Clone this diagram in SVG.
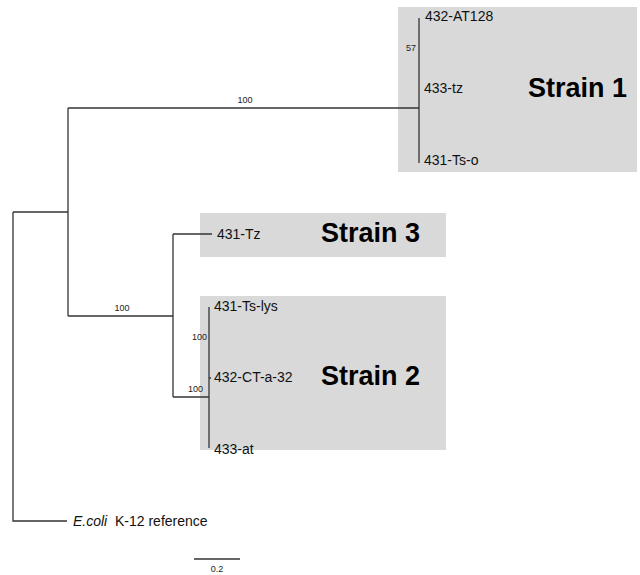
<svg xmlns="http://www.w3.org/2000/svg" width="640" height="575" viewBox="0 0 640 575">
<style>
.box{fill:#d9d9d9}
.br{stroke:#333;stroke-width:1.3;fill:none}
.leaf{font-family:"Liberation Sans",Arial,sans-serif;font-size:14px;fill:#111}
.bs{font-family:"Liberation Sans",Arial,sans-serif;font-size:9px;fill:#222}
.strain{font-family:"Liberation Sans",Arial,sans-serif;font-size:27px;font-weight:bold;fill:#000}
</style>
<rect width="640" height="575" fill="#fff"/>
<g id="strain1">
<rect class="box" x="398" y="7" width="239" height="165"/>
<text class="strain" x="528" y="97">Strain 1</text>
</g>
<g id="strain3">
<rect class="box" x="200" y="213" width="246" height="44"/>
<text class="strain" x="321" y="242">Strain 3</text>
</g>
<g id="strain2">
<rect class="box" x="200" y="296" width="246" height="154"/>
<text class="strain" x="321" y="385">Strain 2</text>
</g>
<g id="connectors">
<path class="br" d="M13,212 V521 H67"/>
<path class="br" d="M13,212 H68"/>
<path class="br" d="M68,108 V316"/>
<path class="br" d="M68,108 H419"/>
<path class="br" d="M419,18 V163"/>
<path class="br" d="M68,316 H173"/>
<path class="br" d="M173,234 V397"/>
<path class="br" d="M173,234 H212"/>
<path class="br" d="M173,397 H209"/>
<path class="br" d="M209,307 V448"/>
<path class="br" d="M209,378 H211"/>
<path class="br" d="M194,559 H240"/>
</g>
<g id="labels">
<text class="bs" x="245" y="103" text-anchor="middle">100</text>
<text class="bs" x="122" y="311" text-anchor="middle">100</text>
<text class="bs" x="416" y="51" text-anchor="end">57</text>
<text class="bs" x="207" y="340" text-anchor="end">100</text>
<text class="bs" x="203" y="392" text-anchor="end">100</text>
<text class="bs" x="217" y="572" text-anchor="middle">0.2</text>
</g>
<g id="leaf-432-AT128"><text class="leaf" x="425" y="21">432-AT128</text></g>
<g id="leaf-433-tz"><text class="leaf" x="424" y="93">433-tz</text></g>
<g id="leaf-431-Ts-o"><text class="leaf" x="424" y="165">431-Ts-o</text></g>
<g id="leaf-431-Tz"><text class="leaf" x="217" y="239">431-Tz</text></g>
<g id="leaf-431-Ts-lys"><text class="leaf" x="214" y="311">431-Ts-lys</text></g>
<g id="leaf-432-CT-a-32"><text class="leaf" x="214" y="382">432-CT-a-32</text></g>
<g id="leaf-433-at"><text class="leaf" x="214" y="454">433-at</text></g>
<g id="leaf-ecoli"><text class="leaf" x="73" y="526"><tspan font-style="italic">E.coli</tspan><tspan x="115">K-12 reference</tspan></text></g>
</svg>
